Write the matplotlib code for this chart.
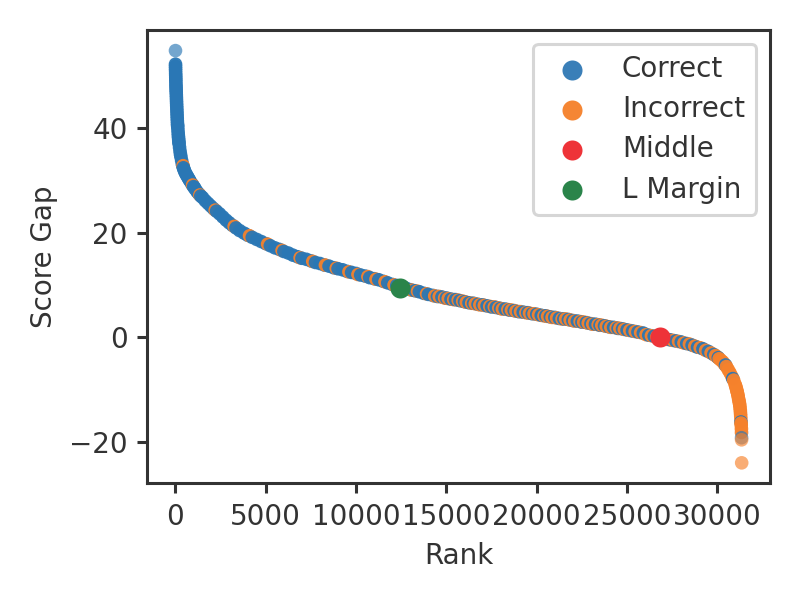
import numpy as np
import matplotlib
matplotlib.use("Agg")
import matplotlib.pyplot as plt

# values
correct_rank = [0, 1, 2, 4, 6, 9, 12, 15, 18, 21, 25, 29, 33, 37, 41, 46, 51, 56, 61, 67, 73, 79, 85, 91, 97, 104, 111, 118,
                125, 137, 150, 160, 170, 180, 190, 200, 225, 250, 275, 300, 340, 380, 410, 440, 470, 500, 550, 600, 650, 700, 750, 800,
                890, 950, 1000, 1050, 1100, 1200, 1300, 1400, 1500, 1650, 1800, 1950, 2100, 2270, 2440, 2620, 2800, 2970, 3150,
                3350, 3550, 3800, 4000, 4250, 4500, 4750,
                5000, 5250, 5500, 5750, 6000, 6250, 6500, 6750, 7000, 7250, 7500, 7750, 8000, 8250, 8500, 8750,
                9000, 9250, 9500, 9750, 10000, 10250, 10500, 10750, 11000, 11250, 11500, 11750, 12000, 12250, 12500, 12750,
                13000, 13250, 13500, 13750, 14000, 14250, 14500, 14750, 15000, 15250, 15500, 15750, 16000, 16250, 16500, 16750,
                17000, 17250, 17500, 17750, 18000, 18250, 18500, 18750, 19000, 19250, 19500, 19750, 20000, 20250, 20500, 20750,
                21000, 21250, 21500, 21750, 22000, 22250, 22500, 22750, 23000, 23250, 23500, 23750, 24000, 24250, 24500, 24750,
                25000, 25300, 25600, 25900, 26200, 26500, 26800, 27100, 27400, 27700, 28000, 28300, 28600, 28900,
                29200, 29500, 29800, 30050, 30450, 30850, 31305, 31338]
correct_gap = [54.8, 52.2, 51.8, 51.4, 51.0, 50.5, 50.1, 49.7, 49.3, 48.9, 48.4, 48.0, 47.6, 47.2, 46.8, 46.3, 45.8, 45.3, 44.8, 44.3, 43.8, 43.3, 42.8, 42.3, 41.8, 41.3, 40.8, 40.5,
             40.2, 39.6, 39.0, 38.5, 38.1, 37.7, 37.3, 37.0, 36.3, 35.6, 35.0, 34.5, 33.8, 33.1, 32.7, 32.4, 32.1, 31.8, 31.4, 31.1, 30.8, 30.5, 30.2, 29.9,
             29.4, 29.1, 28.8, 28.6, 28.3, 27.8, 27.4, 27.0, 26.7, 26.1, 25.6, 25.1, 24.6, 24.1, 23.6, 23.0, 22.4, 21.9, 21.4,
             20.9, 20.4, 19.9, 19.5, 19.1, 18.7, 18.3,
             17.9, 17.5, 17.1, 16.8, 16.4, 16.1, 15.7, 15.4, 15.1, 14.9, 14.6, 14.3, 14.1, 13.8, 13.6, 13.3,
             13.1, 12.9, 12.6, 12.4, 12.2, 11.9, 11.7, 11.4, 11.2, 11.0, 10.7, 10.4, 10.1, 9.9, 9.6, 9.4,
             9.1, 8.9, 8.7, 8.4, 8.2, 8.0, 7.8, 7.7, 7.5, 7.3, 7.2, 7.0, 6.8, 6.6, 6.5, 6.3,
             6.2, 6.0, 5.8, 5.7, 5.5, 5.4, 5.2, 5.1, 4.9, 4.8, 4.7, 4.5, 4.4, 4.2, 4.1, 3.9,
             3.8, 3.6, 3.5, 3.4, 3.2, 3.1, 2.9, 2.8, 2.6, 2.5, 2.3, 2.2, 2.0, 1.9, 1.7, 1.6,
             1.4, 1.2, 1.0, 0.8, 0.4, 0.2, 0.0, -0.3, -0.5, -0.7, -0.9, -1.2, -1.5, -1.9,
             -2.2, -2.7, -3.3, -3.9, -5.3, -7.9, -16.2, -19.2]

incorrect_rank = [420, 950, 1350, 2200, 3250, 4100, 5100, 5900, 6900, 7600, 8300, 8900, 9600, 10100, 10650, 11100, 11600,
                  12100, 12600, 13100, 13400, 13900, 14350, 14600, 14900, 15100, 15400, 15650, 15900, 16100, 16400, 16600,
                  16850, 17100, 17400, 17650, 17900, 18100, 18400, 18600, 18850, 19100, 19400, 19600, 19850, 20100, 20400,
                  20600, 20850, 21100, 21400, 21600, 21850, 22100, 22400, 22600, 22850, 23100, 23400, 23600, 23850, 24100,
                  24400, 24600, 24850, 25150, 25450, 25750, 26050, 26350, 26650, 26950, 27250, 27550, 27850, 28150, 28450,
                  28750, 29050, 29350, 29650, 29900, 30000, 30100, 30200, 30300, 30400, 30500, 30600, 30700, 30800, 30900,
                  30980, 31020, 31050, 31080, 31100, 31130, 31150, 31175, 31200, 31220, 31240, 31255, 31270, 31280, 31290, 31300,
                  31310, 31320, 31330, 31335, 31340, 31345]
incorrect_gap = [32.8, 29.1, 27.2, 24.3, 21.2, 19.4, 17.8, 16.6, 15.2, 14.5, 13.8, 13.2, 12.5, 12.0, 11.6, 11.1, 10.6,
                 10.0, 9.5, 9.0, 8.8, 8.3, 7.9, 7.8, 7.5, 7.4, 7.2, 7.1, 6.9, 6.7, 6.5, 6.4,
                 6.2, 6.1, 5.9, 5.8, 5.6, 5.4, 5.3, 5.2, 5.0, 4.9, 4.7, 4.6, 4.5, 4.3, 4.1,
                 4.0, 3.8, 3.7, 3.5, 3.5, 3.3, 3.1, 3.0, 2.9, 2.7, 2.5, 2.4, 2.3, 2.1, 1.9,
                 1.8, 1.7, 1.5, 1.3, 1.1, 0.9, 0.5, 0.3, 0.1, -0.1, -0.4, -0.6, -0.8, -1.1, -1.3,
                 -1.7, -2.0, -2.5, -3.0, -3.5, -3.8, -4.1, -4.4, -4.7, -5.2, -5.6, -6.2, -6.8, -7.5, -8.2,
                 -9.0, -9.4, -9.8, -10.2, -10.5, -10.9, -11.3, -11.8, -12.2, -12.6, -13.0, -13.5, -14.0, -14.5, -15.0, -15.6,
                 -16.4, -16.8, -17.5, -18.2, -19.6, -24.0]

middle_rank = [26800]
middle_gap = [0.0]
margin_rank = [12420]
margin_gap = [9.5]

BLUE = "#2a77b5"
ORANGE = "#f6822c"

plt.rcParams["text.color"] = "#333333"
plt.rcParams["axes.labelcolor"] = "#333333"
plt.rcParams["axes.edgecolor"] = "#333333"
plt.rcParams["xtick.color"] = "#333333"
plt.rcParams["ytick.color"] = "#333333"
plt.rcParams["axes.linewidth"] = 1.1
plt.rcParams["xtick.major.width"] = 1.1
plt.rcParams["ytick.major.width"] = 1.1
plt.rcParams["patch.linewidth"] = 1.1

fig, ax = plt.subplots(figsize=(4, 3), dpi=200)

# one scatter in rank order, later points cover the earlier ones
ranks = np.array(correct_rank + incorrect_rank)
gaps = np.array(correct_gap + incorrect_gap)
colors = np.array([BLUE] * len(correct_rank) + [ORANGE] * len(incorrect_rank))
order = np.argsort(ranks, kind="stable")
# the few stray points at both ends show up paler than the packed band
alphas = np.where((gaps[order] > 53) | (gaps[order] < -18.5), 0.65, 0.95)
ax.scatter(ranks[order], gaps[order], c=colors[order], s=24, alpha=alphas, linewidths=0)

ax.scatter([], [], color="#3a7fb8", s=52, linewidths=0, label="Correct")
ax.scatter([], [], color="#f58634", s=52, linewidths=0, label="Incorrect")
ax.scatter(middle_rank, middle_gap, color="#ee3338", s=52, linewidths=0, label="Middle", zorder=3)
ax.scatter(margin_rank, margin_gap, color="#2a844a", s=52, linewidths=0, label="L Margin", zorder=3)

ax.set_xlabel("Rank")
ax.set_ylabel("Score Gap")
ax.legend(loc="upper right", labelspacing=0.44)
fig.tight_layout()
fig.savefig("out.png", dpi=200)
